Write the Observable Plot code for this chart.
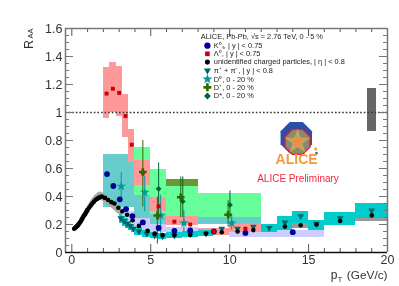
<!DOCTYPE html>
<html><head><meta charset="utf-8">
<style>html,body{margin:0;padding:0;background:#fff}svg{display:block;filter:blur(.3px)}</style>
<script src="https://cdn.jsdelivr.net/npm/d3@7"></script>
<script src="https://cdn.jsdelivr.net/npm/@observablehq/plot@0.6"></script>
</head><body><div id="c"></div>
<script>
// boxes: [x1, x2, lo, hi]
const greenBoxes=[[4,5,.41,.75],[5,6,.27,.59],[6,8,.26,.52],[8,12,.25,.425]];
const oliveBoxes=[[6,8,.47,.525]];
const tealBoxes=[[2,4,.32,.70],[4,5,.22,.41],[5,6,.17,.27],[6,8,.2,.26],[8,12,.2,.25]];
const lavenderBoxes=[[3,3.5,.24,.32],[3.5,4,.2,.29],[4,5,.16,.24],[5,6,.14,.2],[6,8,.13,.18],[8,10,.12,.16],[10,16,.11,.155]];
const redBoxes=[[2,2.4,.96,1.32],[2.4,2.8,1,1.36],[2.8,3.2,.97,1.33],[3.2,3.6,.825,1.13],[3.6,4,.645,.88],[4,5,.48,.66],[5,6,.29,.39],[6,8,.19,.26],[8,10,.12,.17],[10,12,.14,.2]];
const chargedBoxes=[[12,13,.14,.17],[13,14,.16,.2],[14,15,.17,.22],[15,16,.17,.23],[16,18,.2,.25],[18,20,.225,.3]];
const pionBoxes=[[3,3.2,.205,.285],[3.2,3.4,.185,.26],[3.4,3.6,.17,.24],[3.6,3.8,.155,.22],[3.8,4,.14,.2],[4,4.5,.12,.18],[4.5,5,.105,.16],[5,5.5,.1,.14],[5.5,6,.095,.135],[6,7,.1,.14],[7,8,.105,.15],[8,9,.115,.155],[12,13,.14,.2],[13,14,.16,.255],[14,15,.205,.295],[15,16,.16,.23],[16,18,.195,.285],[18,20,.24,.35]];
const globalBox=[[18.73,19.3,.867,1.17]];

const chargedBandX=[.15,.4,.7,1,1.3,1.6,1.9,2.2,2.5,2.8,3.1];
const chargedBandLo=[.16,.175,.23,.285,.335,.365,.37,.35,.32,.29,.26];
const chargedBandHi=[.185,.205,.27,.33,.385,.42,.43,.4,.37,.34,.31];

const kaonX=[2.23,2.63,3.04,3.44,3.84,4.5,5.5,6.5,7.5,9,11,14];
const kaonY=[.56,.475,.38,.31,.26,.215,.175,.155,.157,.15,.14,.145];
const lambdaX=[2.2,2.6,3,3.4,3.8,4.5,5.5,6.5,7.5,9,11];
const lambdaY=[1.135,1.17,1.14,.975,.77,.57,.33,.22,.2,.15,.17];
const chargedX=[.15,.2,.25,.3,.35,.4,.45,.5,.55,.6,.65,.7,.75,.8,.85,.9,.95,1,1.1,1.2,1.3,1.4,1.5,1.6,1.7,1.8,1.9,2.1,2.3,2.5,2.7,2.95,3.2,3.5,3.85,4.25,4.8,5.25,5.75,6.5,7.5,8.5,9.5,10.5,11.5,13.5,14.5,15.5,17,19];
const chargedY=[.17,.175,.18,.185,.19,.197,.205,.212,.22,.23,.24,.25,.26,.268,.275,.285,.295,.305,.32,.335,.35,.363,.375,.383,.39,.396,.4,.39,.375,.36,.35,.32,.295,.27,.23,.19,.155,.135,.125,.125,.125,.135,.145,.15,.16,.185,.195,.2,.225,.265];
const pionX=[3.1,3.3,3.5,3.7,3.9,4.25,4.75,5.25,5.75,6.5,7.5,8.5,9.5,10.5,11.5,12.5,13.5,14.5,15.5,17,19];
const pionY=[.245,.225,.205,.19,.17,.15,.135,.12,.115,.12,.13,.135,.17,.17,.185,.175,.215,.26,.205,.245,.30];
const d0X=[3.13,4.62,5.63,7.1,10.13];
const d0Y=[.473,.43,.265,.21,.21];
const d0Lo=[.36,.29,.11,.145,.16];
const d0Hi=[.57,.545,.41,.30,.27];
const dPlusX=[4.5,5.42,6.9,9.9];
const dPlusY=[.575,.265,.395,.27];
const dPlusLo=[.325,.06,.25,.18];
const dPlusHi=[.8,.395,.54,.37];
const dStarX=[5.5,7.03,10.02];
const dStarY=[.455,.365,.34];
const dStarLo=[.23,.25,.245];
const dStarHi=[.64,.54,.44];

const legendLabels=["K⁰ₛ, | y | < 0.75","Λ⁰, | y | < 0.75","unidentified charged particles, | η | < 0.8","π⁺ + π⁻, | y | < 0.8","D⁰, 0 - 20 %","D⁺, 0 - 20 %","D*, 0 - 20 %"];
const legendY=[1.477,1.419,1.36,1.30,1.238,1.18,1.118];
const legendColors=["#000099","#cc0000","#000","#006666","#009999","#336600","#006633"];
const legendSymbols=["circle","square2","circle","triangle2","star","cross","diamond2"];
const legendSizes=[2.6,2.3,1.7,3,2.8,3,2.5];
const legendRotate=[0,0,0,180,0,0,0];
const title="ALICE, Pb-Pb, √s = 2.76 TeV, 0 - 5 %";

const yMajor=[0,.2,.4,.6,.8,1,1.2,1.4,1.6];
const yMinor=d3.range(0,33).map(i=>i*.05).filter(v=>Math.abs(v/.2-Math.round(v/.2))>.01);
const xMajor=[0,5,10,15,20];
const xMinor=d3.range(0,21).filter(v=>v%5);
const xMin=-.4,xMax=20,yMin=0,yMax=1.6;
const pxX=15.8,pxY=139.5; // pixels per data unit, for tick lengths

const box=(arr,fill)=>Plot.rect(arr,{x1:d=>d[0],x2:d=>d[1],y1:d=>d[2],y2:d=>d[3],fill,shapeRendering:"crispEdges"});
const pts=(X,Y)=>X.map((x,i)=>({x,y:Y[i]}));
const errs=(X,Lo,Hi)=>X.map((x,i)=>({x,lo:Lo[i],hi:Hi[i]}));
const octagon={draw(c,size){const r=Math.sqrt(size/Math.PI);for(let i=0;i<8;i++){const a=Math.PI/8+i*Math.PI/4;const px=r*Math.cos(a),py=r*Math.sin(a);i?c.lineTo(px,py):c.moveTo(px,py);}c.closePath();}};
const gray="#777";
const fmtY=d=>d===0?"0":d===1?"1":d.toFixed(1);
const yTicks=(vals,len)=>[
  Plot.ruleY(vals,{x1:xMin,x2:xMin+len/pxX,stroke:gray}),
  Plot.ruleY(vals,{x1:xMax,x2:xMax-len/pxX,stroke:gray})];
const xTicks=(vals,len)=>[
  Plot.ruleX(vals,{y1:yMin,y2:yMin+len/pxY,stroke:"#555"}),
  Plot.ruleX(vals,{y1:yMax,y2:yMax-len/pxY,stroke:"#555"})];

const plot=Plot.plot({
  width:399,height:286,marginLeft:65,marginRight:12,marginTop:28,marginBottom:34,
  style:{fontFamily:"'Liberation Sans',Arial,sans-serif",background:"#fff",color:"#333"},
  x:{domain:[xMin,xMax],axis:null},y:{domain:[yMin,yMax],axis:null},
  marks:[
    box(greenBoxes,"#66ff99"),box(oliveBoxes,"#669933"),
    box(tealBoxes,"#66cccc"),box(lavenderBoxes,"#ccccff"),
    box(redBoxes,"#ff9999"),box(chargedBoxes,"#999"),box(pionBoxes,"#00cccc"),
    box(globalBox,"#666"),
    Plot.areaY(chargedBandX.map((x,i)=>({x,lo:chargedBandLo[i],hi:chargedBandHi[i]})),{x:"x",y1:"lo",y2:"hi",fill:"#aaa",curve:"natural"}),
    Plot.ruleY([1],{x1:xMin,x2:xMax,stroke:"#333",strokeWidth:1.3,strokeDasharray:"1.6 2"}),
    Plot.axisY({anchor:"left",ticks:yMajor,tickFormat:fmtY,tickSize:0,tickPadding:3,fontSize:12.5,label:null,fill:"#333"}),
    Plot.axisX({anchor:"bottom",ticks:xMajor,tickFormat:d=>d,tickSize:0,tickPadding:3,fontSize:12.5,label:null,fill:"#333"}),
    ...yTicks(yMajor,8),...yTicks(yMinor,4),...xTicks(xMajor,8),...xTicks(xMinor,4),
    Plot.ruleX([xMin,xMax],{y1:yMin,y2:yMax,stroke:gray,strokeWidth:1.5}),
    Plot.ruleY([yMax],{x1:xMin,x2:xMax,stroke:gray,strokeWidth:1.5}),
    Plot.ruleY([yMin],{x1:xMin,x2:xMax,stroke:"#111",strokeWidth:1.5}),

    Plot.ruleX(errs(d0X,d0Lo,d0Hi),{x:"x",y1:"lo",y2:"hi",stroke:"#009999",strokeWidth:1}),
    Plot.ruleX(errs(dPlusX,dPlusLo,dPlusHi),{x:"x",y1:"lo",y2:"hi",stroke:"#336600",strokeWidth:1}),
    Plot.ruleX(errs(dStarX,dStarLo,dStarHi),{x:"x",y1:"lo",y2:"hi",stroke:"#006633",strokeWidth:1}),
    Plot.dot(pts(pionX,pionY),{x:"x",y:"y",r:3.2,symbol:"triangle2",rotate:180,fill:"#006666"}),
    Plot.dot(pts(chargedX,chargedY),{x:"x",y:"y",r:2.3,fill:"#000"}),
    Plot.dot(pts(kaonX,kaonY),{x:"x",y:"y",r:2.9,fill:"#000099"}),
    Plot.dot(pts(lambdaX,lambdaY),{x:"x",y:"y",r:2.5,symbol:"square2",fill:"#cc0000"}),
    Plot.dot(pts(d0X,d0Y),{x:"x",y:"y",r:3,symbol:"star",fill:"#009999"}),
    Plot.dot(pts(dPlusX,dPlusY),{x:"x",y:"y",r:3.2,symbol:"cross",fill:"#336600"}),
    Plot.dot(pts(dStarX,dStarY),{x:"x",y:"y",r:2.6,symbol:"diamond2",fill:"#006633"}),

    Plot.text([title],{x:[8.17],y:[1.54],text:d=>d,textAnchor:"start",fontSize:7.4,fill:"#222"}),
    Plot.dot(legendLabels,{x:()=>8.59,y:(d,i)=>legendY[i],fill:(d,i)=>legendColors[i],symbol:(d,i)=>legendSymbols[i],r:(d,i)=>legendSizes[i],rotate:(d,i)=>legendRotate[i]}),
    Plot.text(legendLabels,{x:()=>9,y:(d,i)=>legendY[i],text:d=>d,textAnchor:"start",fontSize:7.4,fill:"#222"}),

    Plot.dot([0],{x:()=>14.22,y:()=>.82,r:17,symbol:octagon,fill:"#2a4fa8"}),
    Plot.dot([0],{x:()=>14.3,y:()=>.79,r:13.5,symbol:octagon,fill:"#8a8a70",stroke:"#e0202a",strokeWidth:1.3}),
    Plot.dot([0],{x:()=>14.3,y:()=>.79,r:8,symbol:"star",fill:"#c9a25a"}),
    Plot.dot([0],{x:()=>14.3,y:()=>.79,r:3.5,symbol:"star",fill:"#f28a3c"}),
    Plot.dot([0],{x:()=>15.45,y:()=>.74,r:1.6,fill:"#f5a83c"}),
    Plot.dot([0],{x:()=>15.5,y:()=>.71,r:1.4,fill:"#3a6fb8"}),
    Plot.text(["ALICE"],{x:()=>14.24,y:()=>.663,text:d=>d,fontSize:14,fontWeight:"bold",fill:"#f59a3c"}),
    Plot.text(["ALICE Preliminary"],{x:()=>14.33,y:()=>.53,text:d=>d,fontSize:10,fill:"#f0283c"}),

    Plot.text(["R"],{x:()=>xMin,y:()=>yMax,dx:-37,dy:16,rotate:-90,text:d=>d,fontSize:12.5,fill:"#333"}),
    Plot.text(["AA"],{x:()=>xMin,y:()=>yMax,dx:-35,dy:5,rotate:-90,text:d=>d,fontSize:7.5,fill:"#333"}),
    Plot.text(["p"],{x:()=>xMax,y:()=>yMin,dx:-50,dy:23,textAnchor:"end",text:d=>d,fontSize:12,fill:"#333"}),
    Plot.text(["T"],{x:()=>xMax,y:()=>yMin,dx:-45,dy:27,textAnchor:"end",text:d=>d,fontSize:8,fill:"#333"}),
    Plot.text(["(GeV/c)"],{x:()=>xMax,y:()=>yMin,dy:23,textAnchor:"end",text:d=>d,fontSize:11.8,fill:"#333"})
  ]
});
document.getElementById("c").append(plot);
</script></body></html>
